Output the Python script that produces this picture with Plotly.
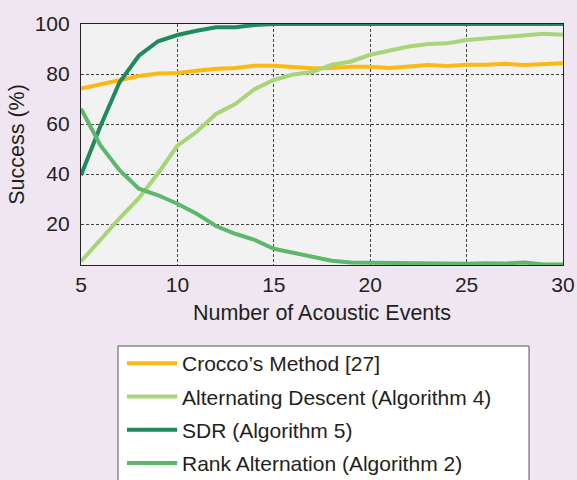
import plotly.graph_objects as go

events = list(range(5, 31))
crocco = [74.2, 76.0, 77.7, 79.2, 80.2, 80.4, 81.3, 82.1, 82.4, 83.3, 83.3, 82.6, 82.3, 82.4, 82.9,
          82.9, 82.4, 83.0, 83.6, 83.2, 83.7, 83.7, 84.1, 83.6, 83.9, 84.3]
alt_descent = [5.0, 13.8, 22.3, 30.3, 40.3, 51.3, 56.9, 64.0, 68.0, 73.9, 77.6, 79.8, 80.8, 83.7, 85.0,
               87.7, 89.5, 91.0, 92.0, 92.3, 93.6, 94.3, 95.0, 95.5, 96.1, 95.7]
sdr = [39.5, 59.0, 76.7, 87.3, 93.1, 95.6, 97.3, 98.7, 98.7, 99.6, 100.0, 100.0, 100.0, 100.0, 100.0,
       100.0, 100.0, 100.0, 100.0, 100.0, 100.0, 100.0, 100.0, 100.0, 100.0, 100.0]
rank_alt = [66.1, 51.5, 41.5, 34.1, 31.5, 28.1, 24.1, 19.2, 16.1, 13.7, 10.1, 8.5, 6.9, 5.3, 4.6,
            4.5, 4.2, 4.2, 4.1, 4.1, 4.1, 4.3, 4.2, 4.6, 3.8, 3.8]

names = ["Crocco\u2019s Method [27]", "Alternating Descent (Algorithm 4)",
         "SDR (Algorithm 5)", "Rank Alternation (Algorithm 2)"]
colors = ["#FDB913", "#A8D57A", "#1E8A5E", "#5DB86B"]
series = [crocco, alt_descent, sdr, rank_alt]

x_ticks = [5, 10, 15, 20, 25, 30]
y_ticks = [20, 40, 60, 80, 100]

FONT = "Liberation Sans, Arial, sans-serif"
TXT = "#231F20"

# plot area in pixels (for placing the legend frame)
L, R, T, B = 81, 563, 24, 265
PW, PH = R - L, B - T

fig = go.Figure()
for i, (nm, col, ys) in enumerate(zip(names, colors, series)):
    fig.add_trace(go.Scatter(x=events, y=ys, mode="lines", name=nm,
                             line=dict(color=col, width=4), legendgroup=str(i)))

# legend frame (white box with dark border, running off the bottom of the page)
fig.add_shape(type="rect", xref="paper", yref="paper", layer="below",
              x0=(118 - L) / PW, x1=(529 - L) / PW,
              y0=(B - 346) / PH, y1=(B - 500) / PH,
              fillcolor="#FFFFFF", line=dict(color="#555555", width=1))

fig.update_layout(
    width=577, height=480,
    margin=dict(l=L, r=577 - R, t=T, b=480 - B, autoexpand=False),
    paper_bgcolor="#EFE6F2",
    plot_bgcolor="#F2F2F2",
    font=dict(family=FONT, size=21, color=TXT),
    showlegend=True,
    legend=dict(
        x=(122 - L) / PW, y=(B - 343) / PH, xanchor="left", yanchor="top",
        bgcolor="rgba(0,0,0,0)", borderwidth=0,
        font=dict(family=FONT, size=21, color=TXT),
        itemwidth=50, tracegroupgap=3, traceorder="grouped",
    ),
    xaxis=dict(
        range=[5, 30], tickvals=x_ticks, ticks="", showline=True, linecolor="#222",
        linewidth=1.2, mirror=True, showgrid=True, gridcolor="#444", griddash="3px,2px",
        gridwidth=1, zeroline=False, ticklabelstandoff=1,
        title=dict(text="Number of Acoustic Events", standoff=9, font=dict(size=21.5)),
        tickfont=dict(size=21),
    ),
    yaxis=dict(
        range=[3.6, 100], tickvals=y_ticks, ticks="", showline=True, linecolor="#222",
        linewidth=1.2, mirror=True, showgrid=True, gridcolor="#444", griddash="3px,2px",
        gridwidth=1, zeroline=False, ticklabelstandoff=6,
        title=dict(text="Success (%)", standoff=4, font=dict(size=21.5)),
        tickfont=dict(size=21),
    ),
)

fig.write_html("out.html")
